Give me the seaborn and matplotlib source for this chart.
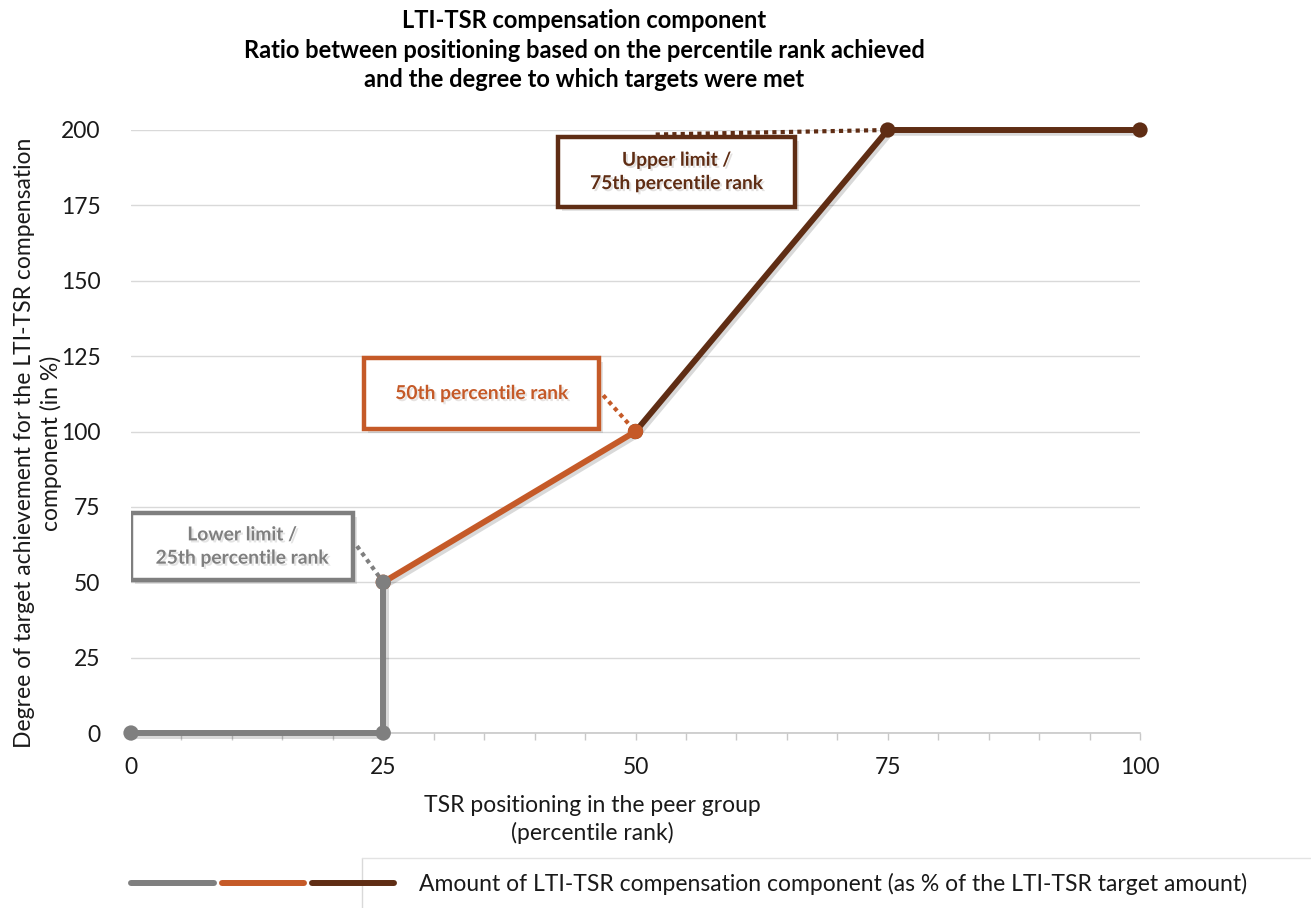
import matplotlib
matplotlib.use("Agg")
import matplotlib.pyplot as plt
import matplotlib.patheffects as pe
from matplotlib.legend_handler import HandlerTuple
from matplotlib.lines import Line2D
from matplotlib.patches import FancyBboxPatch
import seaborn as sns
import pandas as pd

# Piecewise vesting curve, one segment per colour
lower_x = [0, 25, 25]
lower_y = [0, 0, 50]
mid_x = [25, 50]
mid_y = [50, 100]
upper_x = [50, 75, 100]
upper_y = [100, 200, 200]

x_ticks = [0, 25, 50, 75, 100]
y_ticks = [0, 25, 50, 75, 100, 125, 150, 175, 200]

title_lines = [
    "LTI-TSR compensation component",
    "Ratio between positioning based on the percentile rank achieved",
    "and the degree to which targets were met",
]
x_label = "TSR positioning in the peer group\n(percentile rank)"
y_label = "Degree of target achievement for the LTI-TSR compensation\ncomponent (in %)"
legend_label = "Amount of LTI-TSR compensation component (as % of the LTI-TSR target amount)"

GRAY = "#7f7f7f"
ORANGE = "#c55a28"
BROWN = "#5f2d14"
TXT = "#1a1a1a"
FS = 16.5

sns.set_theme(style="white")
plt.rcParams["font.family"] = ["Lato", "DejaVu Sans"]

fig = plt.figure(figsize=(13.11, 9.08), dpi=100)
ax = fig.add_axes([131 / 1311, 1 - 733 / 908, 1009 / 1311, 603 / 908])

shadow = [pe.SimpleLineShadow(offset=(2, -2), alpha=0.15, shadow_color="black"), pe.Normal()]

# Drawn back to front so the earlier segment's marker sits on top at each joint
segments = [
    (upper_x, upper_y, BROWN),
    (mid_x, mid_y, ORANGE),
    (lower_x, lower_y, GRAY),
]
for xs, ys, col in segments:
    df = pd.DataFrame({"x": xs, "y": ys})
    sns.lineplot(data=df, x="x", y="y", estimator=None, sort=False, color=col,
                 linewidth=4.3, marker="o", markersize=11, markeredgewidth=0,
                 ax=ax, clip_on=False, zorder=4)
    ax.lines[-1].set_path_effects(shadow)

handles = [Line2D([0], [0], color=c, linewidth=4.3, solid_capstyle="round")
           for c in (GRAY, ORANGE, BROWN)]

ax.set_xlim(0, 100)
ax.set_ylim(0, 200)
ax.set_xticks(x_ticks)
ax.set_yticks(y_ticks)
ax.set_xticks(range(0, 101, 5), minor=True)
ax.tick_params(axis="x", which="both", direction="out", length=5, width=1,
               color="#c8c8c8", bottom=True, pad=12, labelsize=FS, labelcolor=TXT)
ax.tick_params(axis="y", left=False, pad=16, labelsize=FS, labelcolor=TXT)

ax.grid(axis="y", color="#d9d9d9", linewidth=1)
ax.grid(axis="x", visible=False)
for side in ["top", "right", "left"]:
    ax.spines[side].set_visible(False)
ax.spines["bottom"].set_color("#c8c8c8")
ax.spines["bottom"].set_linewidth(1.2)

ax.set_xlabel(x_label, fontsize=FS, color=TXT, linespacing=1.35)
ax.set_ylabel(y_label, fontsize=FS, color=TXT, linespacing=1.25)
ax.xaxis.set_label_coords((592 - 131) / 1009, -(795 - 733) / 603)
ax.yaxis.set_label_coords(-(131 - 62) / 1009, (733 - 443) / 603)

# Title
fig.text(584 / 1311, 1 - 50 / 908, "\n".join(title_lines), ha="center", va="center",
         fontsize=17, fontweight="bold", color="black", linespacing=1.36)


def callout(x0, y0, x1, y1, text, col, leader):
    box = FancyBboxPatch((x0, y0), x1 - x0, y1 - y0, boxstyle="square,pad=0",
                         facecolor="white", edgecolor=col, linewidth=3.2, zorder=5,
                         path_effects=[pe.SimplePatchShadow(offset=(3, -3), alpha=0.15), pe.Normal()])
    ax.add_patch(box)
    ax.text((x0 + x1) / 2, (y0 + y1) / 2, text, ha="center", va="center",
            fontsize=13.8, fontweight="bold", color=col, zorder=6, linespacing=1.45,
            path_effects=[pe.withSimplePatchShadow(offset=(1.5, -1.5), alpha=0.12)])
    (lx0, ly0), (lx1, ly1) = leader
    ax.plot([lx0, lx1], [ly0, ly1], linestyle=(0, (1, 1)), color=col, linewidth=3,
            zorder=3, clip_on=False)


callout(0.0, 50.7, 22.0, 73.0, "Lower limit /\n25th percentile rank", GRAY,
        ((22.4, 62.0), (25.0, 50.0)))
callout(23.1, 100.8, 46.4, 124.4, "50th percentile rank", ORANGE,
        ((46.8, 112.0), (50.0, 100.0)))
callout(42.3, 174.5, 65.8, 197.7, "Upper limit /\n75th percentile rank", BROWN,
        ((52.0, 198.5), (75.0, 200.0)))

# Legend: the three colour segments share one entry
fs_px = FS * 100 / 72
leg = fig.legend([tuple(handles)], [legend_label], loc="center left",
                 bbox_to_anchor=((120 - 0.4 * fs_px) / 1311, 1 - 884 / 908),
                 handler_map={tuple: HandlerTuple(ndivide=None, pad=0.35)},
                 handlelength=263 / fs_px, handletextpad=1.05, frameon=False,
                 fontsize=FS, labelcolor=TXT)
fig.add_artist(Line2D([362 / 1311, 362 / 1311], [0, 1 - 858 / 908], color="#d9d9d9",
                      linewidth=1, transform=fig.transFigure))
fig.add_artist(Line2D([362 / 1311, 1.0], [1 - 858 / 908, 1 - 858 / 908], color="#e3e3e3",
                      linewidth=1, transform=fig.transFigure))

fig.savefig("out.png", dpi=100, facecolor="white")
